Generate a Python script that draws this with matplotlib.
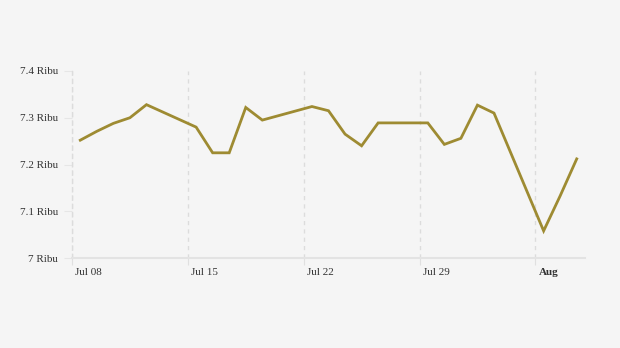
import matplotlib
matplotlib.use("Agg")
import matplotlib.pyplot as plt
import pandas as pd

# Data (weekday values, in thousands)
dates = ["2024-07-08", "2024-07-09", "2024-07-10", "2024-07-11", "2024-07-12",
         "2024-07-15", "2024-07-16", "2024-07-17", "2024-07-18", "2024-07-19",
         "2024-07-22", "2024-07-23", "2024-07-24", "2024-07-25", "2024-07-26",
         "2024-07-29", "2024-07-30", "2024-07-31", "2024-08-01", "2024-08-02",
         "2024-08-05", "2024-08-06", "2024-08-07"]
values = [7.252, 7.271, 7.288, 7.300, 7.328,
          7.280, 7.225, 7.225, 7.322, 7.295,
          7.324, 7.315, 7.265, 7.240, 7.289,
          7.289, 7.243, 7.256, 7.327, 7.310,
          7.058, 7.133, 7.212]
tick_dates = ["2024-07-08", "2024-07-15", "2024-07-22", "2024-07-29", "2024-08-05"]
tick_labels = ["Jul 08", "Jul 15", "Jul 22", "Jul 29", "Aug"]
y_ticks = [7.0, 7.1, 7.2, 7.3, 7.4]
y_labels = ["7 Ribu", "7.1 Ribu", "7.2 Ribu", "7.3 Ribu", "7.4 Ribu"]

bg = "#f5f5f5"
line_color = "#9e8b32"

x = pd.to_datetime(dates) + pd.Timedelta(hours=12)
xt = pd.to_datetime(tick_dates)

fig = plt.figure(figsize=(6.2, 3.48), dpi=100, facecolor=bg)
ax = fig.add_axes([72 / 620, 1 - 258 / 348, (585 - 72) / 620, (258 - 71) / 348])
ax.set_facecolor(bg)

ax.plot(x, values, color=line_color, linewidth=2, solid_joinstyle="miter", zorder=3)

ax.set_xlim(pd.Timestamp("2024-07-08"), pd.Timestamp("2024-08-08"))
ax.set_ylim(7.0, 7.4)

# x tick labels, left-aligned just right of each tick
ax.set_xticks(xt)
ax.set_xticklabels([])
for d, lab in zip(xt, tick_labels):
    ax.annotate(lab, (d, 0), xycoords=("data", "axes fraction"),
                xytext=(2.5, -7.5), textcoords="offset points",
                ha="left", va="top", fontsize=8, family="Liberation Serif",
                color="#333333", fontweight="bold" if lab == "Aug" else "normal")

ax.set_yticks(y_ticks)
ax.set_yticklabels(y_labels, fontsize=8, family="Liberation Serif", color="#333333")

ax.tick_params(axis="x", length=5, color="#e0e0e0", pad=2)
ax.tick_params(axis="y", length=6, color="#e6e6e6", pad=4)

# vertical dashed grid
ax.grid(axis="x", color="#dcdcdc", linestyle=(0, (3, 3)), linewidth=1)
ax.set_axisbelow(True)

for side in ["top", "right"]:
    ax.spines[side].set_visible(False)
ax.spines["left"].set_color("#dcdcdc")
ax.spines["left"].set_linestyle((0, (3, 3)))
ax.spines["left"].set_linewidth(1)
ax.spines["bottom"].set_color("#e3e3e3")
ax.spines["bottom"].set_linewidth(1.5)

fig.savefig("out.png", dpi=100, facecolor=bg)
